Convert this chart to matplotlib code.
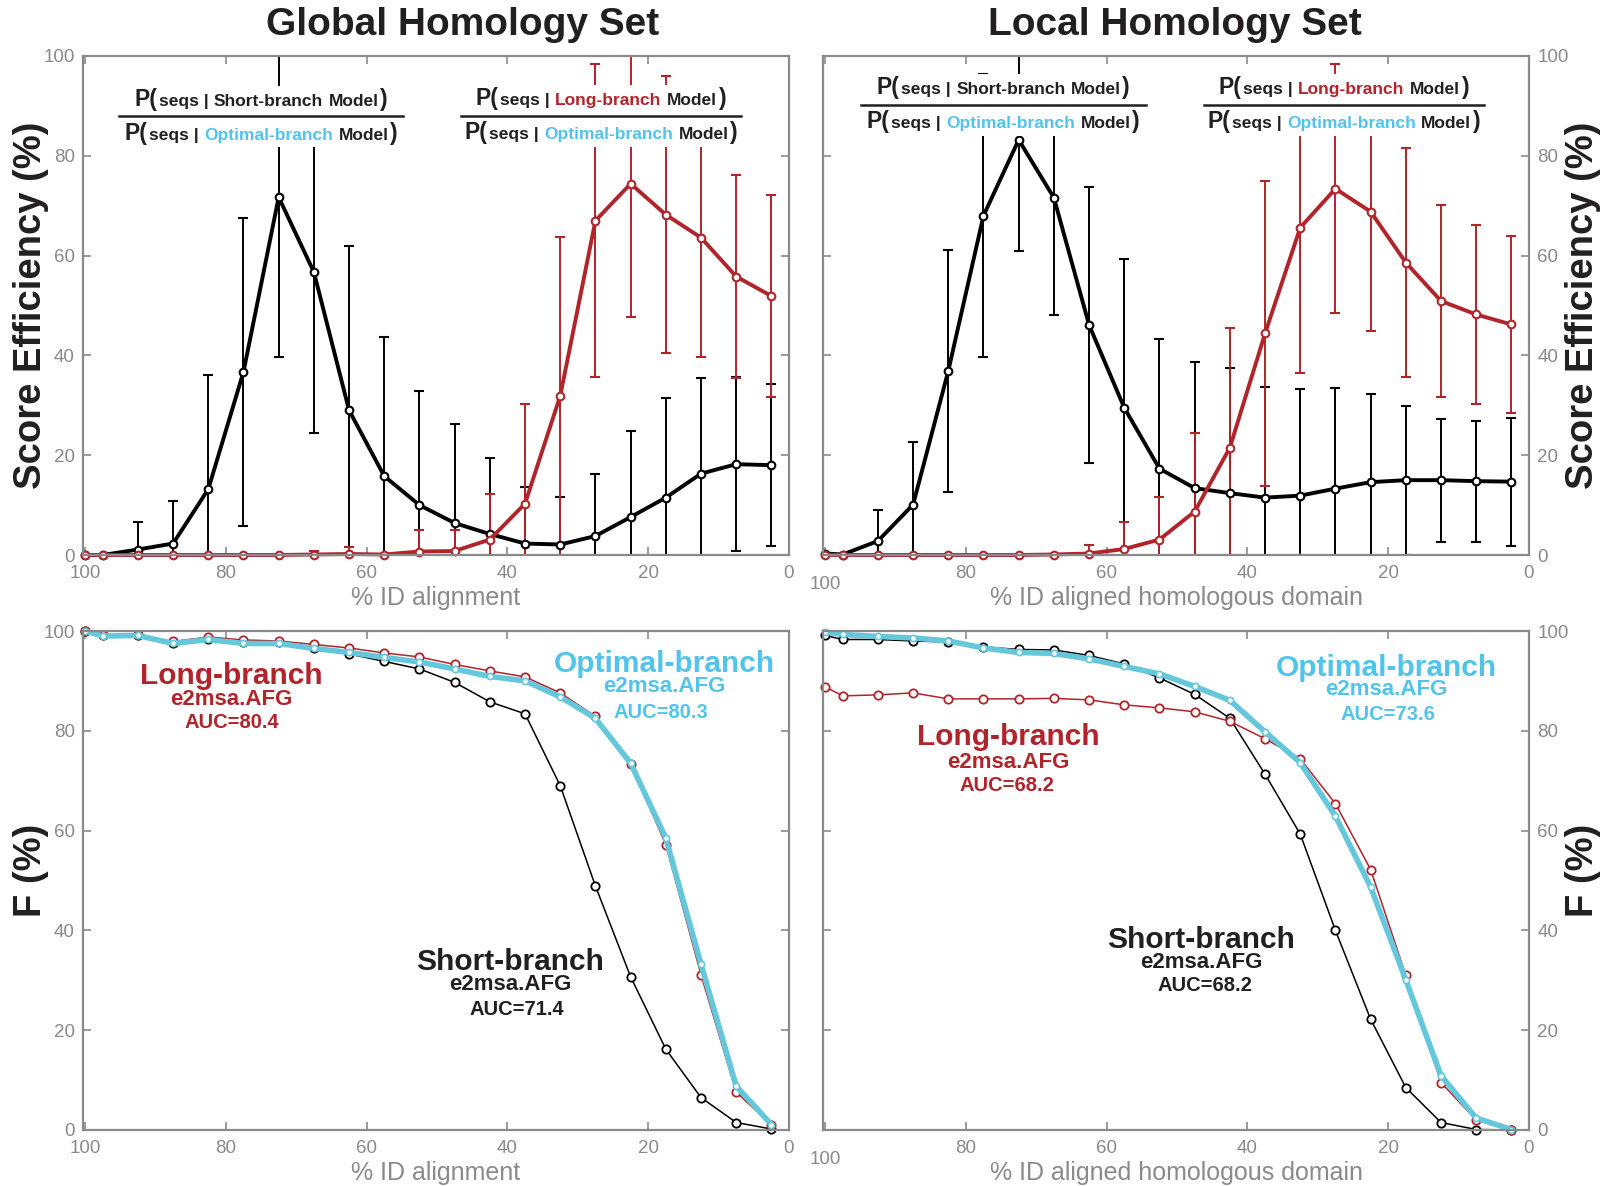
import numpy as np
import matplotlib
matplotlib.use('Agg')
from matplotlib import pyplot as plt
from matplotlib.offsetbox import TextArea, HPacker, VPacker, AnnotationBbox, DrawingArea
from matplotlib.lines import Line2D
from matplotlib.transforms import ScaledTranslation

plt.rcParams['font.family'] = ['Liberation Sans', 'DejaVu Sans']

# % identity bins (x axis, reversed)
pid = [100, 97.5, 92.5, 87.5, 82.5, 77.5, 72.5, 67.5, 62.5, 57.5, 52.5,
       47.5, 42.5, 37.5, 32.5, 27.5, 22.5, 17.5, 12.5, 7.5, 2.5]
x_ticks = [100, 80, 60, 40, 20, 0]
x_tick_labels = ['100', '80', '60', '40', '20', '0']
y_ticks = [0, 20, 40, 60, 80, 100]

# score efficiency, global homology set (mean and std)
gl_short = [0, 0, 1.1, 2.3, 13.2, 36.7, 71.7, 56.7, 29.0, 15.8, 10.0,
            6.4, 4.2, 2.3, 2.1, 3.8, 7.6, 11.5, 16.3, 18.2, 18.0]
gl_short_sd = [0, 0, 5.6, 8.5, 22.9, 30.8, 32.1, 32.2, 32.9, 27.9, 22.8,
               19.8, 15.3, 11.4, 9.6, 12.4, 17.2, 19.9, 19.1, 17.4, 16.2]
gl_long = [0, 0, 0, 0, 0, 0, 0, 0.1, 0.2, 0.1, 0.7,
           0.8, 3.1, 10.3, 31.9, 67.0, 74.4, 68.2, 63.6, 55.8, 51.9]
gl_long_sd = [0, 0, 0, 0, 0, 0, 0, 0.8, 1.5, 0, 4.3,
              4.2, 9.2, 20.0, 31.8, 31.4, 26.8, 27.7, 24.0, 20.3, 20.2]

# score efficiency, local homology set
lc_short = [0.3, 0.1, 2.8, 10.1, 36.9, 68.0, 83.2, 71.6, 46.1, 29.5, 17.3,
            13.4, 12.4, 11.5, 11.9, 13.3, 14.6, 15.0, 15.0, 14.8, 14.7]
lc_short_sd = [0, 0, 6.2, 12.6, 24.2, 28.4, 22.3, 23.6, 27.7, 29.8, 26.0,
               25.3, 25.1, 22.2, 21.4, 20.2, 17.7, 14.9, 12.3, 12.1, 12.8]
lc_long = [0, 0, 0, 0, 0, 0, 0, 0.1, 0.3, 1.2, 3.1,
           8.7, 21.5, 44.4, 65.6, 73.4, 68.8, 58.6, 50.9, 48.2, 46.2]
lc_long_sd = [0, 0, 0, 0, 0, 0, 0, 0, 1.7, 5.5, 8.6,
              15.7, 24.0, 30.6, 29.1, 24.9, 24.0, 23.0, 19.2, 18.0, 17.7]

# F (%), global homology set
gb_short = [100, 99.1, 99.1, 97.5, 98.4, 97.7, 97.7, 96.6, 95.4, 93.9, 92.4,
            89.7, 85.8, 83.4, 69.0, 48.9, 30.7, 16.2, 6.5, 1.5, 0.2]
gb_long = [100, 99.1, 99.1, 97.9, 98.8, 98.2, 98.0, 97.3, 96.6, 95.6, 94.8,
           93.3, 92.0, 90.8, 87.6, 82.9, 73.3, 57.2, 31.1, 7.6, 1.0]
gb_opt = [100, 99.0, 99.1, 97.5, 98.3, 97.5, 97.5, 96.5, 95.7, 94.7, 93.8,
          92.4, 90.9, 90.0, 86.8, 82.5, 73.5, 58.5, 33.2, 8.8, 1.1]

# F (%), local homology set
lb_short = [99.1, 98.3, 98.3, 98.0, 97.8, 96.8, 96.3, 96.2, 95.1, 93.4, 90.6,
            87.3, 82.5, 71.3, 59.3, 40.0, 22.2, 8.5, 1.5, 0.1, 0]
lb_long = [88.8, 87.0, 87.2, 87.6, 86.4, 86.4, 86.4, 86.5, 86.2, 85.2, 84.6,
           83.8, 81.9, 78.4, 74.4, 65.4, 52.2, 31.0, 9.5, 2.0, 0]
lb_opt = [99.8, 99.3, 98.9, 98.6, 98.0, 96.6, 95.7, 95.5, 94.4, 92.9, 91.4,
          88.9, 86.1, 79.8, 73.6, 62.9, 48.7, 30.1, 10.9, 2.4, 0.1]

GRAY = '#8a8a8c'
RED = '#b0242a'
CYAN = '#64c7dc'
CYAN_TXT = '#52c4ec'
INK = '#231f20'


def style_axes(fig, ax, right_side):
    ax.set_xlim(100.3, 0)
    ax.set_ylim(0, 100)
    ax.set_xticks(x_ticks)
    ax.set_xticklabels(x_tick_labels)
    ax.set_yticks(y_ticks)
    for sp in ax.spines.values():
        sp.set_color(GRAY)
        sp.set_linewidth(1.6)
    ax.tick_params(direction='in', length=6, width=1.2, color=GRAY, labelcolor=GRAY,
                   labelsize=13.5, top=True, right=True, left=True, bottom=True,
                   labelleft=not right_side, labelright=right_side)
    ax.tick_params(axis='x', pad=7)
    ax.tick_params(axis='y', pad=6)
    if right_side:
        # matlab pushes the "100" label down next to the neighbour's "0"
        lab = ax.get_xticklabels()[0]
        lab.set_transform(lab.get_transform() + ScaledTranslation(0, -8 / 72, fig.dpi_scale_trans))


def ratio_box(ax, x, y, model, color, width_pt):
    # P(seqs | model) / P(seqs | optimal-branch model)
    def row(name, col):
        big = dict(size=16.5, fontweight='bold', color=INK)
        small = dict(size=12.5, fontweight='bold', color=INK)
        mid = HPacker(children=[TextArea('seqs |', textprops=small),
                                TextArea(name, textprops=dict(small, color=col)),
                                TextArea('Model', textprops=small)],
                      align='baseline', pad=0, sep=4)
        return HPacker(children=[TextArea('P(', textprops=big), mid,
                                 TextArea(')', textprops=big)],
                       align='baseline', pad=0, sep=1)

    bar = DrawingArea(width_pt, 4)
    bar.add_artist(Line2D([0, width_pt], [2, 2], color=INK, lw=1.8))
    box = VPacker(children=[row(model, color), bar, row('Optimal-branch', CYAN_TXT)],
                  align='center', pad=0, sep=2)
    ab = AnnotationBbox(box, (x, y), xycoords='data', frameon=True, pad=0.15,
                        bboxprops=dict(facecolor='white', edgecolor='none'),
                        zorder=10, annotation_clip=False)
    ax.add_artist(ab)


def score_panel(ax, short, short_sd, long_, long_sd):
    for vals, err, col in [(short, short_sd, 'black'), (long_, long_sd, RED)]:
        line, caps, bars = ax.errorbar(pid, vals, yerr=err, color=col, lw=2.8, marker='o',
                                       ms=5.5, mfc='white', mec=col, mew=1.5, ecolor=col,
                                       elinewidth=1.4, capsize=3.5, capthick=1.4)
        line.set_clip_on(False)


def f_panel(ax, short, long_, opt):
    ax.plot(pid, short, color='black', lw=1.1, marker='o', ms=6, mfc='white',
            mec='black', mew=1.3, clip_on=False)
    ax.plot(pid, long_, color=RED, lw=1.1, marker='o', ms=6, mfc='white',
            mec=RED, mew=1.3, clip_on=False)
    ax.plot(pid, opt, color=CYAN, lw=4, marker='o', ms=4.5, mfc='white',
            mec=CYAN, mew=1.2, clip_on=False)


def label(ax, x, y, name, color, auc, auc_x):
    ax.text(x, y[0], name, color=color, fontsize=21.5, fontweight='bold', ha='center', va='center')
    ax.text(x, y[1], 'e2msa.AFG', color=color, fontsize=16, fontweight='bold', ha='center', va='center')
    ax.text(auc_x, y[2], auc, color=color, fontsize=14.5, fontweight='bold', ha='center', va='center')


fig = plt.figure(figsize=(16.07, 11.86), dpi=100)
W, H = 1607, 1186
left_x, right_x, ax_w = 83 / W, 823 / W, 706 / W
top_y, bot_y, ax_h = 1 - 555 / H, 1 - 1130 / H, 499 / H

ax1 = fig.add_axes([left_x, top_y, ax_w, ax_h])
ax2 = fig.add_axes([right_x, top_y, ax_w, ax_h])
ax3 = fig.add_axes([left_x, bot_y, ax_w, ax_h])
ax4 = fig.add_axes([right_x, bot_y, ax_w, ax_h])

score_panel(ax1, gl_short, gl_short_sd, gl_long, gl_long_sd)
score_panel(ax2, lc_short, lc_short_sd, lc_long, lc_long_sd)
f_panel(ax3, gb_short, gb_long, gb_opt)
f_panel(ax4, lb_short, lb_long, lb_opt)

style_axes(fig, ax1, False)
style_axes(fig, ax2, True)
style_axes(fig, ax3, False)
style_axes(fig, ax4, True)

for ax, xl in [(ax1, '% ID alignment'), (ax2, '% ID aligned homologous domain'),
               (ax3, '% ID alignment'), (ax4, '% ID aligned homologous domain')]:
    ax.set_xlabel(xl, fontsize=18, color=GRAY)
    ax.xaxis.set_label_coords(0.5, -0.063)

ratio_box(ax1, 75.0, 87.9, 'Short-branch', INK, 204)
ratio_box(ax1, 26.7, 88.0, 'Long-branch', RED, 201)
ratio_box(ax2, 74.7, 90.2, 'Short-branch', INK, 205)
ratio_box(ax2, 26.3, 90.2, 'Long-branch', RED, 202)

# curve labels in the F panels
label(ax3, 79.2, (91.0, 86.3, 81.7), 'Long-branch', RED, 'AUC=80.4', 79.2)
label(ax3, 17.7, (93.3, 88.8, 83.7), 'Optimal-branch', CYAN_TXT, 'AUC=80.3', 18.2)
label(ax3, 39.6, (33.6, 29.1, 24.1), 'Short-branch', INK, 'AUC=71.4', 38.7)

label(ax4, 20.3, (92.6, 88.2, 83.2), 'Optimal-branch', CYAN_TXT, 'AUC=73.6', 20.0)
label(ax4, 74.0, (78.7, 73.7, 69.1), 'Long-branch', RED, 'AUC=68.2', 74.1)
label(ax4, 46.6, (38.1, 33.5, 28.9), 'Short-branch', INK, 'AUC=68.2', 46.0)

# titles and y labels
fig.text(463 / W, 1 - 25 / H, 'Global Homology Set', fontsize=28, fontweight='bold',
         color=INK, ha='center', va='center')
fig.text(1175 / W, 1 - 25 / H, 'Local Homology Set', fontsize=28, fontweight='bold',
         color=INK, ha='center', va='center')
for xf in [31 / W, 1583 / W]:
    fig.text(xf, 1 - 305 / H, 'Score Efficiency (%)', fontsize=27.5, fontweight='bold',
             color=INK, rotation=90, ha='center', va='center')
    fig.text(xf, 1 - 870 / H, 'F (%)', fontsize=27.5, fontweight='bold',
             color=INK, rotation=90, ha='center', va='center')

fig.savefig('out.png', dpi=100)
